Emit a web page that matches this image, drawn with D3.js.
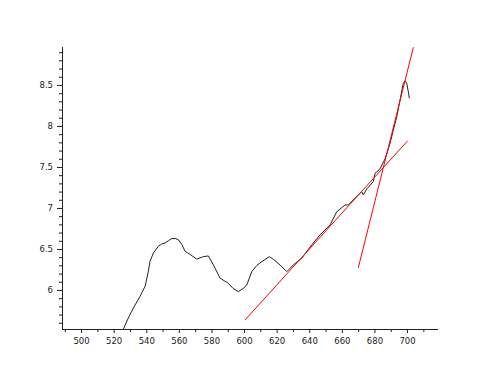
<!DOCTYPE html>
<html><head><meta charset="utf-8">
<script src="https://cdn.jsdelivr.net/npm/d3@7"></script>
<style>body{margin:0;background:#fff}svg{display:block}</style>
</head><body>
<script>
const xs = [526.0,529.0,532.1,536.2,539.3,541.3,542.3,544.4,547.4,549.5,551.5,553.6,555.6,557.7,559.7,561.8,563.8,566.9,571.0,575.0,578.1,581.2,585.3,590.4,593.3,596.5,599.6,601.7,604.7,607.8,611.0,615.5,618.0,622.1,626.2,630.2,635.4,641.5,646.6,652.8,656.9,662.0,664.0,668.1,672.2,673.2,675.3,679.3,680.4,683.4,686.5,689.6,691.6,693.7,695.7,697.7,698.8,699.8,700.8,701.4];
const ys = [5.524,5.659,5.780,5.923,6.045,6.228,6.350,6.451,6.533,6.561,6.573,6.601,6.626,6.628,6.613,6.555,6.472,6.433,6.376,6.406,6.415,6.305,6.143,6.082,6.018,5.979,6.021,6.061,6.223,6.299,6.348,6.406,6.374,6.305,6.223,6.305,6.387,6.549,6.671,6.793,6.955,7.037,7.037,7.118,7.199,7.159,7.232,7.321,7.423,7.476,7.598,7.789,7.951,8.113,8.317,8.521,8.552,8.521,8.418,8.338];
const fit1X = [600.6, 700.4];
const fit1Y = [5.634, 7.82];
const fit2X = [670.1, 703.9];
const fit2Y = [6.27, 8.96];
const xTickLabels = [500,520,540,560,580,600,620,640,660,680,700];
const yTickLabels = [6,6.5,7,7.5,8,8.5];

const W=500,H=377;
const svg=d3.select("body").append("svg").attr("width",W).attr("height",H);
const x=d3.scaleLinear().domain([488.3,719]).range([62,438]);
const y=d3.scaleLinear().domain([5.524,8.963]).range([329,47]);

const xMinor=d3.range(490,720,10);
const yMinor=d3.range(56,90,1).map(d=>d/10);

const xAxis=d3.axisBottom(x).tickValues(xMinor).tickSize(4)
  .tickFormat(d=>xTickLabels.includes(d)?d:"");
const gx=svg.append("g").attr("transform","translate(0,329)").call(xAxis);
gx.selectAll(".tick line").attr("y2",d=>xTickLabels.includes(d)?4:3);
const yAxis=d3.axisLeft(y).tickValues(yMinor).tickSize(5)
  .tickFormat(d=>yTickLabels.some(v=>Math.abs(v-d)<1e-6)?d3.format("")(Math.round(d*10)/10):"");
const gy=svg.append("g").attr("transform","translate(62,0)").call(yAxis);
gy.selectAll(".tick line").attr("x2",d=>yTickLabels.some(v=>Math.abs(v-d)<1e-6)?-5:-3);
[gx,gy].forEach(g=>{
  g.select(".domain").attr("stroke","#222").attr("d",null);
  g.selectAll(".tick line").attr("stroke","#222");
  g.selectAll("text").attr("font-family","DejaVu Sans").attr("font-size",8.5).attr("fill","#222");
});
gx.select(".domain").remove();gy.select(".domain").remove();
svg.append("line").attr("x1",62).attr("x2",438).attr("y1",329.5).attr("y2",329.5).attr("stroke","#222");
svg.append("line").attr("x1",62.5).attr("x2",62.5).attr("y1",47).attr("y2",329).attr("stroke","#222");
gx.selectAll("text").attr("dy","0.9em");
gy.selectAll("text").attr("x",-9);

const line=d3.line().x(d=>x(d[0])).y(d=>y(d[1]));
svg.append("path").datum(xs.map((v,i)=>[v,ys[i]])).attr("d",line)
  .attr("fill","none").attr("stroke","#222").attr("stroke-width",1);
[[fit1X,fit1Y],[fit2X,fit2Y]].forEach(([fx,fy])=>{
  svg.append("path").datum(fx.map((v,i)=>[v,fy[i]])).attr("d",line)
    .attr("fill","none").attr("stroke","#ff0000").attr("stroke-width",1);
});
</script>
</body></html>
